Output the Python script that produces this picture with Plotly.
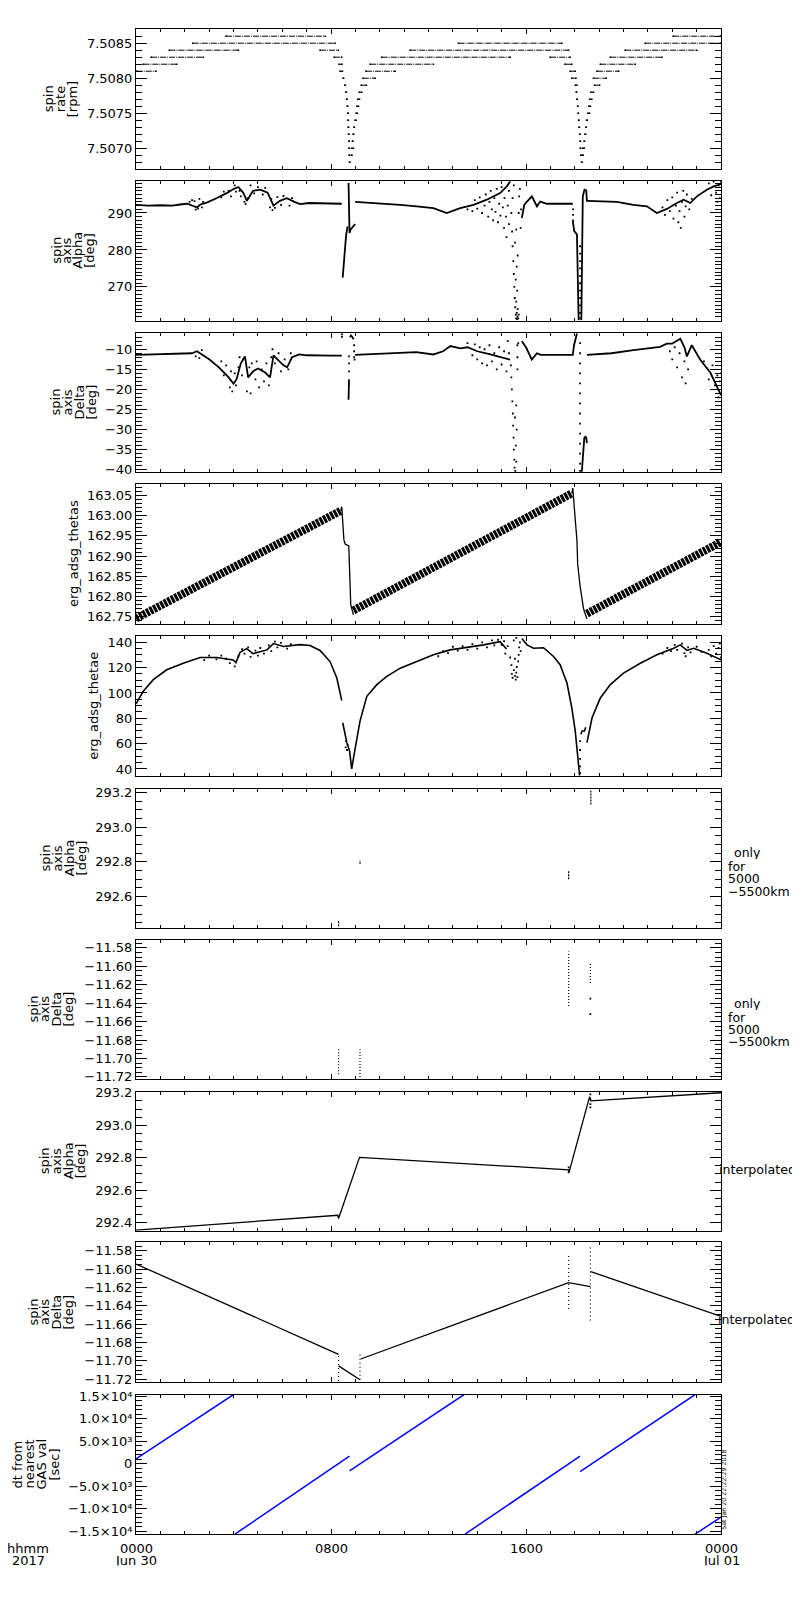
import plotly.graph_objects as go

# the page body has an 8 px default margin: the figure is sized and positioned so
# that reference pixel coordinates map 1:1 onto the photographed page
OFF = 8
W, H = 800 - OFF, 1600 - OFF
FONT = "DejaVu Sans"

# ---------------- data ----------------
# panel 1: spin rate step levels (segment start/end in hours of Jun 30, level in rpm)
rate_t0 = [0.03, 0.30, 0.62, 1.37, 2.33, 3.69, 7.55, 8.13, 8.33, 8.37,
           8.50, 8.57, 8.61, 8.64, 8.67, 8.69, 8.70, 8.71, 8.72, 8.73, 8.74, 8.75, 8.76,
           8.84, 8.85, 8.88, 8.91, 8.94, 8.99, 9.03, 9.06, 9.10, 9.16, 9.24, 9.31, 9.43, 9.61, 10.08, 11.25, 13.23,
           16.99, 17.60, 17.81, 17.88, 18.02, 18.06, 18.09, 18.12, 18.14, 18.16, 18.18, 18.20, 18.22, 18.23, 18.25, 18.28,
           18.33, 18.33, 18.39, 18.42, 18.46, 18.49, 18.54, 18.57, 18.61, 18.66, 18.81, 18.77, 18.91, 19.05, 19.46, 20.07, 20.89, 22.04]
rate_t1 = [0.82, 1.67, 2.76, 4.20, 8.17, 7.76, 8.30, 8.44, 8.45, 8.47,
           8.52, 8.59, 8.63, 8.66, 8.68, 8.70, 8.71, 8.72, 8.73, 8.74, 8.75, 8.76, 8.77,
           8.86, 8.92, 8.90, 8.93, 8.96, 9.03, 9.08, 9.13, 9.17, 9.26, 9.45, 9.81, 10.63, 12.20, 15.35, 17.74, 17.47,
           17.81, 17.88, 18.02, 18.05, 18.09, 18.08, 18.10, 18.13, 18.15, 18.17, 18.19, 18.21, 18.23, 18.24, 18.26, 18.29,
           18.34, 18.39, 18.40, 18.44, 18.47, 18.51, 18.61, 18.64, 18.70, 18.77, 19.02, 19.29, 19.80, 20.48, 21.58, 23.01, 24.00, 24.00]
rate_v = [7.5081, 7.5082, 7.5083, 7.5084, 7.5085, 7.5086, 7.5084, 7.5083, 7.5082, 7.5081,
          7.5080, 7.5079, 7.5078, 7.5077, 7.5076, 7.5075, 7.5074, 7.5073, 7.5072, 7.5071, 7.5070, 7.5069, 7.5068,
          7.5069, 7.5070, 7.5071, 7.5072, 7.5073, 7.5074, 7.5075, 7.5076, 7.5077, 7.5078, 7.5079, 7.5080, 7.5081, 7.5082, 7.5083, 7.5084, 7.5085,
          7.5083, 7.5082, 7.5081, 7.5080, 7.5079, 7.5078, 7.5077, 7.5076, 7.5075, 7.5074, 7.5073, 7.5072, 7.5071, 7.5070, 7.5069, 7.5068,
          7.5069, 7.5070, 7.5071, 7.5072, 7.5073, 7.5074, 7.5075, 7.5076, 7.5077, 7.5078, 7.5079, 7.5080, 7.5081, 7.5082, 7.5083, 7.5084, 7.5085, 7.5086]

# panel 2: spin axis alpha [deg]
alpha_t = [0.0, 0.5, 1.0, 1.5, 1.8, 2.1, 2.35, 2.5, 2.64, 2.9, 3.3, 3.7, 4.0, 4.2, 4.4, 4.55, 4.8, 5.1, 5.4, 5.64,
           5.9, 6.19, 6.5, 6.73, 7.1, 7.55, 8.0, 8.44, None,
           8.48, 8.55, 8.62, 8.68, None,
           8.72, 8.73, 8.76, 8.80, 8.87, 8.95, 8.99, None,
           8.99, 9.5, 10.0, 10.84, 11.52, 12.2, 12.75, 13.3, 13.85, 14.39, 14.94, 15.21, 15.35, None,
           15.83, 15.93, 16.04, 16.24, 16.45, 16.58, 16.86, 17.92, None,
           17.92, 17.98, 18.09, 18.16, None,
           18.27, 18.29, 18.33, 18.40, 18.47, 18.50, None,
           18.50, 19.73, 20.41, 20.96, 21.37, 21.78, 22.19, 22.47, 22.74, 23.01, 23.42, 23.70, 24.0]
alpha_v = [292.2, 292.0, 292.1, 292.0, 292.3, 292.5, 291.9, 291.5, 292.3, 292.8, 294.0, 295.3, 296.5, 297.0, 295.5, 293.3, 296.0, 296.3, 295.5, 292.0,
           293.3, 294.0, 293.0, 292.4, 292.7, 292.6, 292.5, 292.5, None,
           272.5, 279.0, 284.0, 286.4, None,
           298.1, 296.0, 284.6, 285.5, 286.0, 286.5, 287.0, None,
           293.0, 292.8, 292.7, 292.2, 291.8, 291.3, 290.0, 291.3, 292.2, 293.6, 295.4, 297.2, 298.5, None,
           288.7, 292.2, 293.1, 294.5, 291.8, 293.1, 292.5, 292.5, None,
           287.8, 285.1, 284.2, 261.0, None,
           261.0, 283.3, 294.5, 296.3, 296.1, 293.1, None,
           293.3, 293.0, 292.2, 291.8, 290.0, 291.1, 292.7, 293.6, 292.7, 294.5, 296.3, 297.2, 297.8]
alpha_pts_t = [2.2, 2.3, 2.4, 2.45, 2.55, 2.6, 2.7, 2.75,
               3.5, 3.6, 3.8, 3.9, 4.05, 4.1, 4.25, 4.3, 4.45, 4.5, 4.6, 4.7, 4.85, 5.0, 5.2, 5.3, 5.5, 5.55, 5.6, 5.7, 5.8, 5.95, 6.05, 6.3, 6.4,
               13.6, 13.8, 13.9, 14.0, 14.1, 14.2, 14.3, 14.35, 14.45, 14.5, 14.55, 14.6, 14.65, 14.7, 14.75, 14.8, 14.85, 14.9, 14.95, 15.0,
               15.05, 15.1, 15.12, 15.18, 15.2, 15.25, 15.3, 15.3,
               15.4, 15.43, 15.45, 15.48, 15.5, 15.52, 15.54, 15.56, 15.58, 15.6, 15.62, 15.63, 15.65, 15.66, 15.68, 15.7, 15.6, 15.64,
               15.58, 15.62, 15.66, 15.55, 15.6, 15.7, 15.72, 15.75, 15.5, 15.45, 15.78, 15.8,
               18.22, 18.22, 18.22, 18.22, 18.22, 18.22, 18.22, 18.22, 18.22, 18.22, 18.22, 17.93, 17.93, 17.93,
               21.6, 21.7, 21.8, 21.9, 22.0, 22.05, 22.15, 22.2, 22.25, 22.3, 22.35, 22.4, 22.45, 22.5, 22.55, 22.6, 22.7, 22.8,
               23.5, 23.6, 23.7, 23.8, 23.85, 23.9, 23.95, 24.0]
alpha_pts_v = [293.0, 293.5, 293.2, 290.9, 291.2, 293.8, 291.5, 293.0,
               294.2, 295.8, 296.0, 294.5, 297.5, 295.8, 296.0, 294.5, 293.0, 292.4, 294.0, 297.5, 295.3, 297.0, 295.0, 296.8, 291.5, 293.8, 290.8, 291.4, 294.3, 292.2, 294.6, 292.0, 294.0,
               291.0, 290.5, 293.5, 291.2, 294.2, 290.0, 292.0, 295.0, 289.0, 293.0, 296.0, 291.0, 288.0, 294.0, 290.3, 296.5, 287.5, 292.5, 289.3, 297.0,
               291.5, 286.0, 294.0, 289.0, 283.5, 292.0, 296.0, 287.0,
               290.0, 285.0, 281.0, 277.0, 273.5, 270.0, 267.0, 264.5, 262.5, 261.5, 263.0, 261.3, 262.0, 264.0, 261.5, 262.5, 266.0, 269.0,
               272.0, 275.5, 278.5, 282.0, 285.5, 290.0, 294.5, 296.5, 297.5, 294.0, 286.0, 291.0,
               281.0, 279.0, 277.0, 275.0, 273.0, 271.0, 269.0, 267.0, 265.0, 263.0, 261.5, 291.0, 289.5, 288.0,
               291.5, 289.5, 293.5, 290.5, 294.2, 288.5, 292.0, 295.5, 287.5, 290.5, 286.0, 293.0, 296.0, 289.0, 291.8, 295.0, 291.0, 293.8,
               298.0, 294.8, 298.5, 295.5, 293.0, 297.5, 294.0, 298.5]

# panel 3: spin axis delta [deg]
delta_t = [0.0, 1.0, 1.8, 2.3, 2.5, 2.75, 3.0, 3.4, 3.8, 4.0, 4.13, 4.3, 4.47, 4.6, 4.8, 5.0, 5.3, 5.5, 5.64, 5.8,
           6.05, 6.2, 6.4, 6.7, 7.0, 8.0, 8.44, None,
           8.72, 8.73, 8.74, None,
           8.78, 8.82, 8.88, 8.93, None,
           8.99, 10.0, 10.84, 11.5, 12.2, 12.6, 12.9, 13.3, 13.6, 14.0, 14.5, 15.0, 15.35, None,
           15.83, 16.0, 16.24, 16.45, 16.6, 17.92, 17.97, 18.09, None,
           18.29, 18.39, 18.43, 18.47, 18.50, None,
           18.50, 19.5, 20.41, 21.0, 21.5, 21.78, 22.0, 22.33, 22.5, 22.6, 22.8, 23.15, 23.56, 24.0]
delta_v = [-11.4, -11.3, -11.2, -11.0, -10.5, -11.6, -12.5, -14.5, -17.0, -18.6, -17.4, -13.5, -11.8, -17.0, -15.5, -14.8, -15.8, -17.0, -11.5, -12.5,
           -14.0, -14.5, -12.0, -11.3, -11.5, -11.6, -11.6, None,
           -22.6, -20.0, -17.5, None,
           -7.0, -6.6, -7.0, -7.5, None,
           -11.4, -11.1, -10.9, -10.7, -11.3, -10.5, -9.2, -9.8, -9.5, -10.5, -11.2, -12.0, -12.6, None,
           -8.0, -9.5, -12.6, -11.0, -11.4, -11.4, -9.0, -6.1, None,
           -40.5, -32.2, -31.8, -32.0, -33.4, None,
           -11.4, -11.0, -10.2, -9.8, -9.4, -8.6, -8.6, -7.4, -9.5, -11.8, -9.0, -12.6, -15.8, -21.4]
delta_pts_t = [2.45, 2.6, 2.7, 3.5, 3.6, 3.7, 3.85, 3.9, 3.95, 4.05, 4.1, 4.2, 4.25, 4.35, 4.4, 4.55, 4.65, 4.7, 4.75, 4.9, 4.95,
               5.05, 5.15, 5.25, 5.35, 5.45, 5.55, 5.6, 5.7, 5.85, 5.95, 6.1, 6.25, 6.35,
               8.45, 8.45, 8.74, 8.74, 8.74, 8.95, 8.95, 8.95, 8.97,
               13.6, 13.8, 13.9, 14.0, 14.1, 14.2, 14.3, 14.4, 14.5, 14.6, 14.7, 14.8, 14.9, 15.0, 15.1, 15.2, 15.25, 15.3,
               15.38, 15.40, 15.42, 15.44, 15.46, 15.47, 15.49, 15.5, 15.52, 15.53, 15.56, 15.6, 15.58, 15.62, 15.55, 15.6,
               15.65, 15.65, 15.65, 15.68,
               18.22, 18.22, 18.22, 18.22, 18.22, 18.22, 18.22, 18.22, 18.22, 18.22, 18.22, 18.22, 18.22, 18.22,
               21.9, 22.0, 22.1, 22.2, 22.3, 22.4, 22.5, 22.55, 22.65, 23.3, 23.5, 23.65, 23.75, 23.85, 23.9, 23.95, 24.0]
delta_pts_v = [-11.8, -12.2, -10.2, -13.0, -16.5, -14.0, -19.5, -15.5, -20.5, -16.0, -19.0, -14.5, -12.0, -16.5, -12.5, -20.5, -14.5, -21.0, -13.5, -17.5, -13.0,
               -19.5, -15.0, -18.0, -13.5, -19.0, -12.0, -10.0, -13.5, -11.0, -15.5, -12.5, -15.0, -11.0,
               -6.3, -6.9, -15.5, -13.5, -11.8, -9.0, -10.5, -12.0, -12.6,
               -8.5, -11.5, -8.8, -12.5, -9.5, -13.5, -10.0, -14.0, -9.0, -13.0, -11.0, -15.0, -9.5, -13.8, -10.5, -15.5, -8.0, -11.0,
               -14.0, -17.0, -20.0, -23.0, -26.0, -29.0, -32.0, -35.0, -37.5, -39.5, -40.3, -38.0, -34.0, -30.0, -27.0, -24.0,
               -9.0, -12.0, -15.0, -8.5,
               -8.5, -11.0, -13.5, -16.0, -18.5, -21.0, -23.5, -26.0, -28.5, -31.0, -33.5, -36.0, -38.5, -40.3,
               -10.5, -12.5, -9.5, -14.5, -11.0, -17.0, -13.0, -18.5, -15.0, -13.0, -17.5, -14.0, -19.0, -16.5, -22.0, -18.0, -16.0]

# panel 4: erg_adsg_thetas (centre of the oscillating band, and the fast drops)
thetas_band_t = [0.0, 8.40, None, 8.92, 17.88, None, 18.50, 24.0]
thetas_band_v = [162.746, 163.012, None, 162.766, 163.055, None, 162.758, 162.935]
thetas_drop_t = [8.40, 8.44, 8.53, 8.58, 8.73, 8.81, 8.92, None,
                 17.88, 17.92, 18.02, 18.09, 18.12, 18.22, 18.36, 18.50]
thetas_drop_v = [163.012, 163.022, 162.94, 162.93, 162.925, 162.78, 162.755, None,
                 163.055, 163.068, 162.99, 162.94, 162.88, 162.826, 162.77, 162.745]

# panel 5: erg_adsg_thetae
thetae_t = [0.0, 0.3, 0.71, 1.26, 1.94, 2.63, 3.31, 3.99, 4.1, 4.27, 4.54, 4.8, 5.37, 5.64, 6.05, 6.73, 7.14, 7.55, 7.96, 8.24, 8.44, None,
            8.48, 8.65, 8.76, 8.85, 8.95, 9.19, 9.47, 9.88, 10.29, 10.84, 11.52, 12.2, 12.89, 13.57, 14.26, 14.94, 15.2, None,
            15.83, 16.04, 16.31, 16.72, 17.13, 17.4, 17.68, 17.88, 18.02, 18.16, 18.2, None,
            18.25, 18.3, 18.4, 18.45, None,
            18.5, 18.71, 19.05, 19.46, 20.0, 20.69, 21.37, 22.06, 22.33, 22.6, 22.88, 23.42, 24.0]
thetae_v = [91.4, 101.3, 110.5, 118.3, 123.5, 128.0, 128.0, 126.0, 124.0, 132.2, 135.0, 131.0, 134.0, 139.0, 136.7, 138.2, 137.5, 133.6, 124.8, 111.8, 94.0, None,
            76.5, 60.8, 54.3, 40.0, 51.7, 77.8, 97.4, 106.6, 113.1, 119.6, 124.9, 130.1, 134.0, 135.7, 138.0, 140.5, 134.7, None,
            143.0, 138.0, 135.3, 135.7, 128.8, 122.3, 107.9, 88.2, 70.0, 46.4, 34.7, None,
            67.4, 70.0, 70.0, 73.0, None,
            60.8, 80.4, 96.1, 106.6, 115.7, 123.5, 130.1, 135.3, 138.0, 133.6, 135.3, 131.4, 126.2]
thetae_pts_t = [2.8, 3.0, 3.3, 3.5, 3.7, 3.85, 4.05, 4.2, 4.35, 4.45, 4.6, 4.7, 4.9, 5.0, 5.1, 5.25, 5.45, 5.55, 5.7, 5.8, 5.95, 6.2, 6.35,
                8.6, 8.62, 8.66, 8.68, 18.22, 18.22, 18.22, 18.22, 18.22,
                12.4, 12.6, 12.8, 13.0, 13.2, 13.4, 13.6, 13.8, 14.0, 14.2, 14.4, 14.6, 14.7, 14.85, 15.0, 15.1, 15.15, 15.25,
                15.35, 15.4, 15.42, 15.45, 15.5, 15.55, 15.58, 15.6, 15.62, 15.65, 15.68, 15.7, 15.72, 15.5, 15.6, 15.75, 15.78, 15.55,
                21.6, 21.8, 21.95, 22.1, 22.2, 22.4, 22.5, 22.55, 22.65, 22.75, 23.0, 23.2, 23.5, 23.6, 23.7, 23.8, 23.9, 24.0, 23.95]
thetae_pts_v = [126.0, 129.5, 126.5, 129.5, 127.0, 123.5, 121.0, 129.0, 134.5, 131.0, 136.0, 128.5, 133.5, 129.5, 135.5, 131.0, 137.5, 133.0, 140.5, 136.0, 139.5, 135.0, 138.5,
                57.0, 62.0, 55.0, 59.0, 62.0, 55.0, 48.0, 42.0, 37.0,
                129.0, 133.0, 131.5, 136.5, 133.5, 137.0, 134.0, 138.5, 135.0, 140.0, 136.0, 141.5, 137.5, 142.0, 138.0, 141.0, 131.0, 137.0,
                128.0, 122.0, 115.0, 112.0, 118.0, 113.5, 110.5, 116.0, 120.5, 112.5, 125.0, 130.0, 136.0, 141.5, 143.5, 140.0, 133.0, 127.0,
                131.0, 135.5, 133.0, 138.0, 134.0, 139.0, 131.5, 129.0, 136.0, 132.0, 136.5, 132.5, 134.0, 129.0, 137.0, 131.0, 135.5, 128.0, 139.0]

# panel 6: spin axis alpha only for 5000-5500 km (short vertical runs)
alpha_sel_t = [8.31, 9.19, 17.75, 18.66]
alpha_sel_lo = [292.43, 292.79, 292.70, 293.13]
alpha_sel_hi = [292.458, 292.81, 292.75, 293.21]

# panel 7: spin axis delta only for 5000-5500 km
delta_sel_t = [8.31, 9.19, 17.75, 18.64]
delta_sel_lo = [-11.717, -11.72, -11.643, -11.618]
delta_sel_hi = [-11.69, -11.69, -11.584, -11.596]
delta_sel_extra_t = [18.64, 18.64]
delta_sel_extra_v = [-11.635, -11.652]

# panel 8: spin axis alpha interpolated
alpha_int_t = [0.0, 8.28, 8.31, 9.17, 17.75, 17.77, 18.61, 18.66, 24.0]
alpha_int_v = [292.353, 292.445, 292.425, 292.802, 292.725, 292.712, 293.176, 293.15, 293.2]
alpha_int_dots_t = [17.75, 17.75, 18.64, 18.64, 18.64, 18.64]
alpha_int_dots_v = [292.74, 292.71, 293.19, 293.16, 293.13, 293.11]

# panel 9: spin axis delta interpolated
delta_int_t = [0.0, 8.31, None, 8.31, 9.19, None, 9.22, 17.75, 18.64, None, 18.66, 24.0]
delta_int_v = [-11.5945, -11.6929, None, -11.7055, -11.7206, None, -11.698, -11.6148, -11.6191, None, -11.6029, -11.6516]
delta_int_sel_t = [8.31, 9.19, 17.75, 18.64]
delta_int_sel_lo = [-11.722, -11.7206, -11.6435, -11.656]
delta_int_sel_hi = [-11.693, -11.693, -11.584, -11.574]

# panel 10: dt from nearest GAS value [sec]
dt_t = [0.0, 4.0, None, 4.06, 8.76, None, 8.76, 13.46, None, 13.5, 18.22, None, 18.22, 22.94, None, 22.94, 24.0]
dt_v = [1100, 15400, None, -15600, 1750, None, -1535, 15400, None, -15600, 1750, None, -1700, 15400, None, -15600, -11800]
dt_tickvals = [-15000, -10000, -5000, 0, 5000, 10000, 15000]
dt_ticktext = ["\u22121.5\u00d710\u2074", "\u22121.0\u00d710\u2074", "\u22125.0\u00d710\u00b3", "0",
               "5.0\u00d710\u00b3", "1.0\u00d710\u2074", "1.5\u00d710\u2074"]

time_tick_hours = [0, 8, 16, 24]
time_tick_text = [["0000", "Jun 30"], ["0800"], ["1600"], ["0000", "Jul 01"]]

# ---------------- layout geometry (reference pixels) ----------------
X0, X1 = 136, 721
tops = [23.3, 176, 329, 481.7, 634.3, 788.3, 940, 1093.3, 1245, 1398.3]
bots = [164.3, 316.7, 469.3, 622, 775, 928.3, 1080.7, 1233.3, 1386, 1539]


def px(x):
    return (x - OFF) / W


def py(y):
    return 1 - (y - OFF) / H


yaxes_cfg = [
    dict(range=[7.50670, 7.50870], tick0=7.5, dtick=0.0005, minor=0.0001, fmt=".4f"),
    dict(range=[260.9, 298.7], tick0=0, dtick=10, minor=1, fmt="d"),
    dict(range=[-40.6, -5.9], tick0=0, dtick=5, minor=1, fmt="d"),
    dict(range=[162.733, 163.077], tick0=162.75, dtick=0.05, minor=0.01, fmt=".2f"),
    dict(range=[34.7, 145], tick0=0, dtick=20, minor=5, fmt="d"),
    dict(range=[292.42, 293.22], tick0=292.6, dtick=0.2, minor=0.05, fmt=".1f"),
    dict(range=[-11.7226, -11.571], tick0=-11.72, dtick=0.02, minor=0.005, fmt=".2f"),
    dict(range=[292.349, 293.206], tick0=292.4, dtick=0.2, minor=0.05, fmt=".1f"),
    dict(range=[-11.7236, -11.571], tick0=-11.72, dtick=0.02, minor=0.005, fmt=".2f"),
    dict(range=[-15660, 15370], tick0=0, dtick=5000, minor=1000, fmt=None),
]

titles = [
    (["spin", "rate", "[rpm]"], [48, 60, 72]),
    (["spin", "axis", "Alpha", "[deg]"], [57, 67, 78, 90]),
    (["spin", "axis", "Delta", "[deg]"], [55, 67, 79, 91]),
    (["erg_adsg_thetas"], [73]),
    (["erg_adsg_thetae"], [94]),
    (["spin", "axis", "Alpha", "[deg]"], [45, 57, 69, 81]),
    (["spin", "axis", "Delta", "[deg]"], [33, 44.5, 56, 68]),
    (["spin", "axis", "Alpha", "[deg]"], [44, 56, 68, 80]),
    (["spin", "axis", "Delta", "[deg]"], [33, 44.5, 56, 68]),
    (["dt from", "nearest", "GAS val", "[sec]"], [18, 30, 42, 55]),
]

fig = go.Figure()
BLACK = "black"


def seg_xy(t0s, t1s, vs):
    xs, ys = [], []
    for a, b, v in zip(t0s, t1s, vs):
        xs += [a, b, None]
        ys += [v, v, None]
    return xs, ys


def vseg_xy(ts, lo, hi):
    xs, ys = [], []
    for t, a, b in zip(ts, lo, hi):
        xs += [t, t, None]
        ys += [a, b, None]
    return xs, ys


def line(x, y, i, width=1.0, color=BLACK, dash=None):
    fig.add_trace(go.Scatter(x=x, y=y, mode="lines", xaxis=f"x{i}", yaxis=f"y{i}",
                             line=dict(color=color, width=width, dash=dash), connectgaps=False,
                             hoverinfo="skip"))


def dots(x, y, i, size=1.8):
    fig.add_trace(go.Scatter(x=x, y=y, mode="markers", xaxis=f"x{i}", yaxis=f"y{i}",
                             marker=dict(color=BLACK, size=size, symbol="square", line=dict(width=0)),
                             hoverinfo="skip"))


# panel 1
sx, sy = seg_xy(rate_t0, rate_t1, rate_v)
line(sx, sy, 1, width=1.0, dash="6px,1px,1px,1px")
dots(rate_t0 + rate_t1, rate_v + rate_v, 1, size=1.6)
# panel 2
line(alpha_t, alpha_v, 2, width=1.8)
dots(alpha_pts_t, alpha_pts_v, 2)
# panel 3
line(delta_t, delta_v, 3, width=1.8)
dots(delta_pts_t, delta_pts_v, 3)
# panel 4
line(thetas_band_t, thetas_band_v, 4, width=8, dash="3px,1px")
line(thetas_drop_t, thetas_drop_v, 4, width=1.3)
# panel 5
line(thetae_t, thetae_v, 5, width=1.6)
dots(thetae_pts_t, thetae_pts_v, 5)
# panel 6
vx, vy = vseg_xy(alpha_sel_t, alpha_sel_lo, alpha_sel_hi)
line(vx, vy, 6, width=1.2, dash="2px,1px")
# panel 7
vx, vy = vseg_xy(delta_sel_t, delta_sel_lo, delta_sel_hi)
line(vx, vy, 7, width=1.2, dash="1px,2px")
dots(delta_sel_extra_t, delta_sel_extra_v, 7, size=1.8)
# panel 8
line(alpha_int_t, alpha_int_v, 8, width=1.3)
dots(alpha_int_dots_t, alpha_int_dots_v, 8, size=1.8)
# panel 9
line(delta_int_t, delta_int_v, 9, width=1.3)
vx, vy = vseg_xy(delta_int_sel_t, delta_int_sel_lo, delta_int_sel_hi)
line(vx, vy, 9, width=1.2, dash="1px,3px")
# panel 10
line(dt_t, dt_v, 10, width=1.5, color="#0000ff")

layout = dict(width=W, height=H, margin=dict(l=0, r=0, t=0, b=0), autosize=False,
              paper_bgcolor="white", plot_bgcolor="white", showlegend=False,
              font=dict(family=FONT, size=13, color=BLACK))

for k in range(10):
    i = k + 1
    suf = "" if i == 1 else str(i)
    ydom = [py(bots[k]), py(tops[k])]
    layout["xaxis" + suf] = dict(
        domain=[px(X0), px(X1)], range=[0, 24], anchor="y" + suf,
        showline=True, linecolor=BLACK, linewidth=1, mirror="ticks",
        ticks="inside", ticklen=5, tickcolor=BLACK, tickmode="array", tickvals=time_tick_hours,
        showticklabels=False, showgrid=False, zeroline=False,
        minor=dict(ticks="inside", ticklen=3, tickcolor=BLACK, tickmode="linear", tick0=0, dtick=1, showgrid=False))
    c = yaxes_cfg[k]
    ya = dict(domain=ydom, range=c["range"], anchor="x" + suf,
              showline=True, linecolor=BLACK, linewidth=1, mirror="ticks",
              ticks="inside", ticklen=11, tickcolor=BLACK,
              showgrid=False, zeroline=False,
              tickfont=dict(family=FONT, size=13, color=BLACK),
              minor=dict(ticks="inside", ticklen=6, tickcolor=BLACK, tickmode="linear",
                         tick0=c["tick0"], dtick=c["minor"], showgrid=False))
    if c["fmt"] is None:
        ya.update(tickmode="array", tickvals=dt_tickvals, ticktext=dt_ticktext)
    else:
        ya.update(tickmode="linear", tick0=c["tick0"], dtick=c["dtick"], tickformat=c["fmt"])
    layout["yaxis" + suf] = ya

annotations = []


def ann(text, xpx, ypx, angle=0, xanchor="center", size=13, height=None):
    a = dict(text=text, x=px(xpx), y=py(ypx), xref="paper", yref="paper",
             showarrow=False, textangle=angle, xanchor=xanchor, yanchor="middle",
             font=dict(family=FONT, size=size, color=BLACK), borderpad=0)
    if height is not None:
        a.update(height=height, valign="middle")
    annotations.append(a)


for k, (lines_, xs) in enumerate(titles):
    yc = (tops[k] + bots[k]) / 2
    for txt, xp in zip(lines_, xs):
        ann(txt, xp, yc, angle=-90)

# right-hand notes (tight IDL line spacing: one annotation per line with a fixed box height)
for top in (tops[5], tops[6]):
    ann("only", 733, top + 64.5, xanchor="left", height=13, size=12.5)
    ann("for", 727, top + 77.5, xanchor="left", height=10, size=12.5)
    ann("5000", 727, top + 90, xanchor="left", height=10, size=12.5)
    ann("\u22125500km", 727, top + 102.5, xanchor="left", height=10, size=12.5)
ann("interpolated", 718, 1172, xanchor="left", size=12.6)
ann("interpolated", 717, 1323, xanchor="left", size=12.6)

# time axis labels
ann("hhmm", 28, 1553.5, height=10.5)
ann("2017", 28, 1565, height=10.5)
for h, txt in zip(time_tick_hours, time_tick_text):
    xp = X0 + (X1 - X0) * h / 24
    for j, t in enumerate(txt):
        ann(t, xp, 1553.5 + 11.5 * j, height=10.5)

ann("Sat Jan 20 22:22:29 2018", 724, 1494, angle=-90, size=6.3)

layout["annotations"] = annotations
fig.update_layout(**layout)
fig.write_html("out.html")
